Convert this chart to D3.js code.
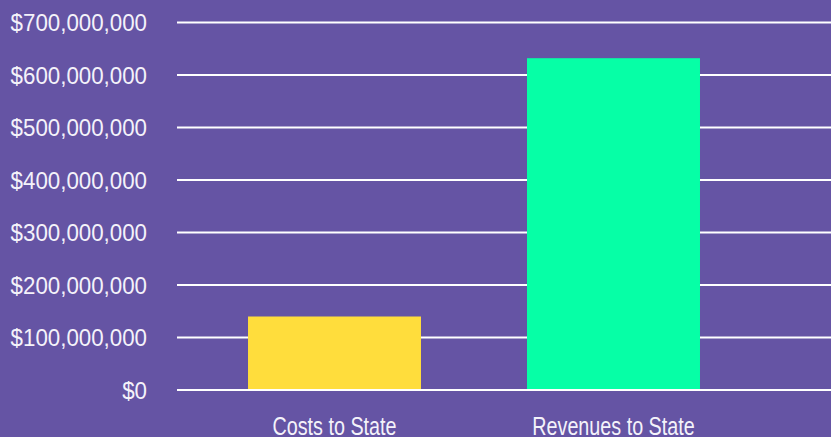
<!DOCTYPE html>
<html>
<head>
<meta charset="utf-8">
<script src="https://cdn.jsdelivr.net/npm/d3@7"></script>
<style>
  html, body { margin: 0; padding: 0; background: #6554a4; }
  svg { display: block; }
  .tickLabel { font-family: "Liberation Sans", Arial, sans-serif; font-size: 24px; fill: #f4f2fa; }
  .catLabel { font-family: "Liberation Sans", Arial, sans-serif; font-size: 26px; fill: #f4f2fa; }
</style>
</head>
<body>
<svg></svg>
<script>
// chart data
var categories = ["Costs to State", "Revenues to State"];
var values = [140000000, 632000000];
var barColors = ["#ffdd3c", "#06ffa6"];
var tickValues = [0, 100000000, 200000000, 300000000, 400000000, 500000000, 600000000, 700000000];

var svgWidth = 831, svgHeight = 437;
var gridLeft = 177, gridRight = 831;
var baseY = 390, topY = 22.5;

var svg = d3.select("svg")
    .attr("width", svgWidth)
    .attr("height", svgHeight);

svg.append("rect")
    .attr("width", svgWidth)
    .attr("height", svgHeight)
    .attr("fill", "#6554a4");

var y = d3.scaleLinear().domain([0, 700000000]).range([baseY, topY]);
var x = d3.scaleBand().domain(categories).range([142, 806]).padding(0.38);

var fmt = function (d) { return "$" + d3.format(",")(d); };

// gridlines
svg.append("g")
    .selectAll("line")
    .data(tickValues.filter(d => d > 0))
    .enter()
    .append("line")
    .attr("x1", gridLeft)
    .attr("x2", gridRight)
    .attr("y1", d => y(d))
    .attr("y2", d => y(d))
    .attr("stroke", "#ffffff")
    .attr("stroke-width", 2);

// bars
svg.append("g")
    .selectAll("rect")
    .data(values)
    .enter()
    .append("rect")
    .attr("x", (d, i) => x(categories[i]))
    .attr("width", x.bandwidth())
    .attr("y", d => y(d))
    .attr("height", d => y(0) - y(d))
    .attr("fill", (d, i) => barColors[i]);

// baseline on top of bars
svg.append("line")
    .attr("x1", gridLeft)
    .attr("x2", gridRight)
    .attr("y1", y(0))
    .attr("y2", y(0))
    .attr("stroke", "#ffffff")
    .attr("stroke-width", 2);

// y tick labels (squeezed a little to look condensed)
svg.append("g")
    .selectAll("text")
    .data(tickValues)
    .enter()
    .append("text")
    .attr("class", "tickLabel")
    .attr("transform", d => "translate(147," + y(d) + ") scale(0.93,1)")
    .attr("dy", "0.36em")
    .attr("text-anchor", "end")
    .text(fmt);

// category labels
svg.append("g")
    .selectAll("text")
    .data(categories)
    .enter()
    .append("text")
    .attr("class", "catLabel")
    .attr("transform", d => "translate(" + (x(d) + x.bandwidth() / 2) + ",435) scale(0.76,1)")
    .attr("text-anchor", "middle")
    .text(d => d);
</script>
</body>
</html>
